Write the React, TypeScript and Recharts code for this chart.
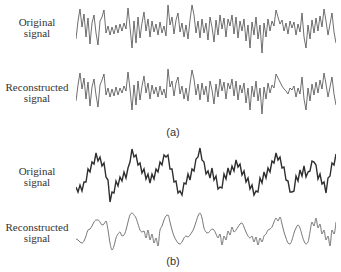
import React from 'react';
import { LineChart, Line, XAxis, YAxis } from 'recharts';

// panel (a): original and reconstructed, amplitudes
const originalA = [
  -10, 8, 20, 2, 15, -8, 11, -15, 6, 14, -4, -16, 8, 12, 19, -4, 3, -6, 2, -5,
  4, -4, 5, -2, 6, 0, 21, 2, -19, 8, -14, 12, -9, 6, 17, -2, 10, -8, 8, -3,
  5, -6, 7, -4, 3, -7, 24, 4, 12, -5, 9, 16, -3, 6, -8, 4, -10, 9, 24, 14,
  -4, 8, -9, 10, -4, 6, -11, 12, 2, -13, 9, -6, 14, 0, 11, -8, 10, 3, 14, -5,
  12, -9, 8, -2, 10, -12, 4, -19, 7, -6, 12, -10, 4, -24, 6, -8, 10, -2, 8, 3,
  19, 12, 5, 9, -2, 6, -5, 8, 1, 7, -6, 5, -3, 16, -8, -19, 4, -10, 9, -4,
  11, -2, 13, 2, 20, 8, -6, 5, 16, -3, -14,
];

const reconstructedA = [
  -9, 7, 19, 3, 14, -7, 10, -14, 5, 13, -3, -15, 7, 12, 18, -3, 4, -5, 3, -4,
  5, -3, 4, -1, 6, 1, 20, 3, -18, 7, -13, 11, -8, 6, 16, -1, 9, -7, 7, -2,
  5, -5, 6, -3, 3, -6, 23, 5, 11, -4, 9, 15, -2, 6, -7, 4, -9, 8, 22, 13,
  -3, 8, -8, 9, -3, 6, -10, 11, 2, -12, 8, -5, 13, 1, 10, -7, 9, 3, 13, -4,
  11, -8, 7, -1, 9, -11, 4, -18, 6, -5, 11, -9, 4, -22, 5, -7, 9, -1, 7, 4,
  18, 14, 10, 6, 3, 1, -2, 4, 2, 6, -5, 4, -2, 15, -7, -18, 4, -9, 8, -3,
  10, -1, 12, 3, 19, 8, -5, 5, 15, -2, -13,
];

// panel (b): slow wave with fine noise, and the smoothed reconstruction
const originalB = [
  -11, -16, -9, -15, -6, -6, 7, 4, 14, 12, 23, 15, 19, 10, 13, -1, -4, -26, -16, -17,
  -5, -10, -1, -5, 4, -2, 8, 14, 27, 19, 21, 11, 13, 3, 7, -3, 2, -7, 2, -3,
  7, 4, 14, 11, 21, 19, 21, 7, 7, -6, -5, -17, -15, -19, -7, -8, 2, -4, 7, 5,
  17, 19, 28, 16, 14, 2, 5, -2, 8, -4, 0, -13, -11, -12, 2, -3, 8, 1, 10, 5,
  16, 9, 12, 1, 5, -6, -2, -13, -9, -19, -15, -16, -2, -7, 4, -2, 8, 4, 15, 13,
  23, 16, 19, 8, 9, -4, -5, -16, -16, -15, 0, -5, 6, 0, 10, -1, 4, 5, 15, 14,
  11, -3, 2, -8, -6, -17, -2, 0, 13, 11, 22,
];

const reconstructedB = [
  -6, -7, -9, -10, -8, -3, 3, 4, 7, 11, 13, 13, 11, 8, 9, 12, 3, -10, -17, -13,
  -5, -1, 1, -3, -2, 3, 11, 18, 20, 18, 15, 9, 3, 1, 2, -5, 3, -7, -1, -10,
  -5, -13, 3, 7, 13, 17, 18, 11, 3, -3, -7, -10, -11, -9, -5, -3, -4, -2, 1, 5,
  11, 17, 20, 15, 5, 1, 0, 2, 4, 3, -1, -5, -1, -12, -3, -7, 2, -2, 6, 1,
  3, 6, 9, 10, 6, 1, -3, -5, -3, -9, -4, -12, -5, -9, -3, -1, 3, 4, 6, 11,
  15, 12, 16, 9, 1, -5, -10, -11, -7, 0, 5, 8, 5, -2, -8, -11, -9, 1, 11, 7,
  15, 5, 9, -1, 3, -7, -3, -13, 3, -1, 11,
];

const toRows = (values: number[]) => values.map((v, i) => ({ i, v }));

type TraceProps = {
  values: number[];
  top: number;
  height: number;
  range: number;
  color: string;
  width?: number;
  curve?: 'linear' | 'monotone';
};

const Trace = ({ values, top, height, range, color, width = 0.9, curve = 'linear' }: TraceProps) => (
  <div style={{ position: 'absolute', left: 76, top, width: 260, height }}>
    <LineChart
      width={260}
      height={height}
      data={toRows(values)}
      margin={{ top: 0, right: 0, bottom: 0, left: 0 }}
    >
      <XAxis dataKey="i" type="number" domain={[0, values.length - 1]} hide />
      <YAxis type="number" domain={[-range, range]} hide />
      <Line
        type={curve}
        dataKey="v"
        stroke={color}
        strokeWidth={width}
        dot={false}
        isAnimationActive={false}
      />
    </LineChart>
  </div>
);

const serif: React.CSSProperties = {
  position: 'absolute',
  left: 0,
  width: 74,
  textAlign: 'center',
  fontFamily: '"Liberation Serif", "Times New Roman", serif',
  fontSize: 11,
  lineHeight: '11px',
  color: '#333',
};

const caption: React.CSSProperties = {
  position: 'absolute',
  left: 150,
  width: 46,
  textAlign: 'center',
  fontFamily: '"Liberation Sans", Arial, sans-serif',
  fontSize: 11,
  color: '#333',
};

export default function App() {
  return (
    <div style={{ position: 'absolute', left: 0, top: 0, width: 341, height: 272, background: '#fff' }}>
      <div style={{ ...serif, top: 17 }}>Original<br />signal</div>
      <div style={{ ...serif, top: 82 }}>Reconstructed<br />signal</div>
      <div style={{ ...caption, top: 126 }}>(a)</div>
      <div style={{ ...serif, top: 166 }}>Original<br />signal</div>
      <div style={{ ...serif, top: 222 }}>Reconstructed<br />signal</div>
      <div style={{ ...caption, top: 255 }}>(b)</div>

      <Trace values={originalA} top={4} height={50} range={25} color="#4a4a4a" width={0.8} />
      <Trace values={reconstructedA} top={67} height={50} range={25} color="#4a4a4a" width={0.8} />
      <Trace values={originalB} top={144} height={64} range={32} color="#2e2e2e" width={1.4} />
      <Trace values={reconstructedB} top={208} height={50} range={25} color="#666" width={0.9} curve="monotone" />
    </div>
  );
}
